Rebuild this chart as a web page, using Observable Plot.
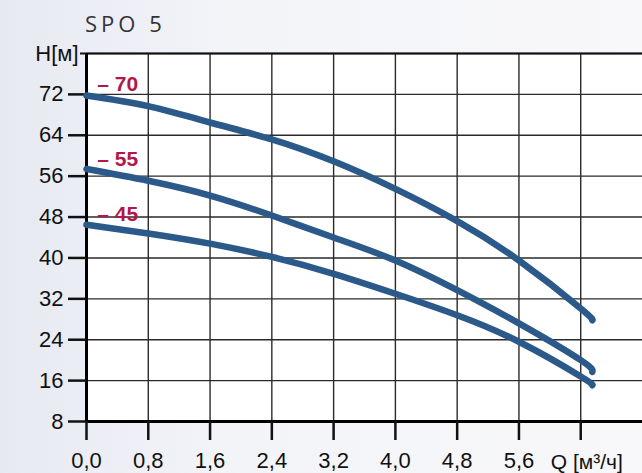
<!DOCTYPE html>
<html><head><meta charset="utf-8">
<script src="https://cdn.jsdelivr.net/npm/d3@7"></script>
<script src="https://cdn.jsdelivr.net/npm/@observablehq/plot@0.6"></script>
<style>
html,body{margin:0;padding:0}
body{width:642px;height:473px;overflow:hidden;position:relative;background:linear-gradient(90deg,#e7e9f2 0%,#f3f4f8 35%,#f8f8fa 100%);font-family:"Liberation Sans",Arial,sans-serif}
#title{position:absolute;left:85px;top:12px;font:22px/22px "Open Sans",sans-serif;letter-spacing:4px;color:#333}
#chart{position:absolute;left:0;top:0}
</style></head><body>
<div id="chart"></div>
<div id="title">SPO 5</div>
<script>
const q   = [0, 0.8, 1.6, 2.4, 3.2, 4.0, 4.8, 5.6, 6.4, 6.55];
const h70 = [71.8, 69.7, 66.5, 63.2, 58.9, 53.5, 47.2, 39.5, 30.1, 27.8];
const h55 = [57.4, 55.1, 52.2, 48.3, 44.0, 39.5, 33.7, 27.2, 20.0, 17.7];
const h45 = [46.5, 44.8, 42.8, 40.2, 36.9, 33.0, 28.8, 23.6, 16.8, 15.1];
const curveLabels = ["– 70", "– 55", "– 45"];
const labelQ = [0.14, 0.14, 0.14];
const labelH = [72.7, 57.9, 47.2];
const xTicks = [0, 0.8, 1.6, 2.4, 3.2, 4.0, 4.8, 5.6, 6.4];
const yTicks = [8, 16, 24, 32, 40, 48, 56, 64, 72];
const xGrid = [0.8, 1.6, 2.4, 3.2, 4.0, 4.8, 5.6, 6.4];
const yGrid = [16, 24, 32, 40, 48, 56, 64, 72, 80];
const qLabel = "Q [м³/ч]";

const series = [h70, h55, h45].map(h => q.map((x, i) => ({q: x, h: h[i]})));
const labelData = curveLabels.map((t, i) => ({t, q: labelQ[i], h: labelH[i]}));
const blue = "#2b5a8a";

const chart = Plot.plot({
  width: 642, height: 473,
  marginLeft: 86, marginRight: 0, marginTop: 53, marginBottom: 52,
  style: {fontFamily: "'Liberation Sans', Arial, sans-serif", fontSize: "22px", background: "transparent", color: "#111"},
  x: {domain: [0, 7.2]},
  y: {domain: [8, 80]},
  marks: [
    Plot.frame({fill: "white", stroke: null}),
    Plot.gridX(xGrid, {stroke: "#2a2a2a", strokeOpacity: 1, strokeWidth: 1.4}),
    Plot.gridY(yGrid, {stroke: "#2a2a2a", strokeOpacity: 1, strokeWidth: 1.4}),
    Plot.ruleY([80], {stroke: "#111", strokeWidth: 2}),
    Plot.ruleX([0], {stroke: "#000", strokeWidth: 3}),
    Plot.ruleY([8], {stroke: "#000", strokeWidth: 3}),
    Plot.axisY(yTicks, {tickSize: 18, tickPadding: 5, strokeWidth: 2.5, fontSize: 22, label: null, tickFormat: d => String(d)}),
    Plot.axisY([80], {tickSize: 6, tickPadding: 2, strokeWidth: 2, fontSize: 22, label: null, tickFormat: () => "H[м]"}),
    Plot.axisX(xTicks, {tickSize: 19, tickPadding: 12, strokeWidth: 2.5, fontSize: 22, label: null,
      tickFormat: d => d === 6.4 ? "" : d.toFixed(1).replace(".", ",")}),
    Plot.text([qLabel], {x: 6.4, y: 8, text: d => d, textAnchor: "start", dx: -30, dy: 41, fontSize: 21, fill: "#111"}),
    ...series.map(s => Plot.line(s, {x: "q", y: "h", stroke: blue, strokeWidth: 6.5, curve: "natural", strokeLinecap: "round"})),
    Plot.text(labelData, {x: "q", y: "h", text: "t", textAnchor: "start", lineAnchor: "bottom", fill: "#b3164a", fontSize: 21, fontWeight: "bold"})
  ]
});
document.getElementById("chart").appendChild(chart);
</script>
</body></html>
